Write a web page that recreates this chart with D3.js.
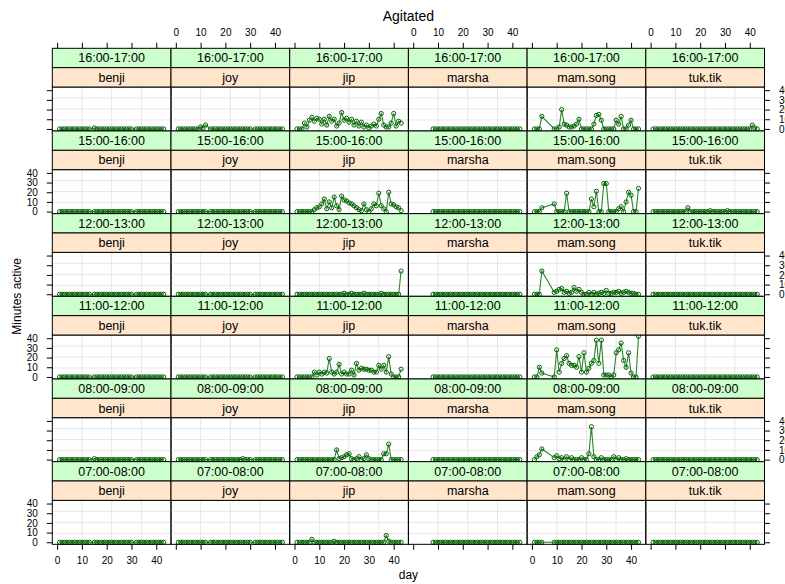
<!DOCTYPE html>
<html>
<head>
<meta charset="utf-8">
<script src="https://cdn.jsdelivr.net/npm/d3@7"></script>
<style>
    html, body { margin: 0; padding: 0; background: #fff; overflow: hidden; }
    svg { display: block; font-family: "Liberation Sans", Arial, sans-serif; }
    .strip text { font-size: 12.5px; fill: #000; }
    .tick text { font-size: 10px; fill: #000; }
    .tick line { stroke: #000; }
    .grid line { stroke: #e6e6e6; stroke-width: 1; }
    .series path { fill: none; stroke: #2a852a; stroke-width: 1.1; }
    .series circle { fill: none; stroke: #006400; stroke-width: 1; }
</style>
</head>
<body>
<svg id="chart" width="785" height="584"></svg>
<script>
/**
 * Data: minutes active per day, one array per person and time slot (days 1..43).
 * null = no observation that day.
 */
const days = [1,2,3,4,5,6,7,8,9,10, 11,12,13,14,15,16,17,18,19,20, 21,22,23,24,25,26,27,28,29,30, 31,32,33,34,35,36,37,38,39,40, 41,42,43];
const persons = ['benji', 'joy', 'jip', 'marsha', 'mam.song', 'tuk.tik'];
const slots = ['16:00-17:00', '15:00-16:00', '12:00-13:00', '11:00-12:00', '08:00-09:00', '07:00-08:00'];
const xTicks = [0, 10, 20, 30, 40];
const yTicks = [0, 10, 20, 30, 40];

const benji16 = [0,0,0,0,0,0,0,0,0,0, 0,0,0,null,1,0,0,0,0,0, 0,0,0,0,0,0,0,0,0,0, null,0,0,0,0,0,0,0,0,0, 0,0,0];
const benji15 = [0,0,0,0,0,0,0,0,0,0, 0,0,0,null,0,0,0,0,0,0, 0,0,0,0,0,0,0,0,0,0, null,0,0,0,0,0,0,0,0,0, 0,0,0];
const benji12 = [0,0,0,0,0,0,0,0,0,0, 0,0,0,null,0,0,0,0,0,0, 0,0,0,0,0,0,0,0,0,0, null,0,0,0,0,0,0,0,0,0, 0,0,0];
const benji11 = [0,0,0,0,0,0,0,0,0,0, 0,0,0,null,0,0,0,0,0,0, 0,0,0,0,0,0,0,0,0,0, null,0,0,0,0,0,0,0,0,0, 0,0,0];
const benji08 = [0,0,0,0,0,0,0,0,0,0, 0,0,0,null,1,0,0,0,0,0, 0,0,0,0,0,0,0,0,0,0, null,0,0,0,0,0,0,0,0,0, 0,0,0];
const benji07 = [0,0,0,0,0,0,0,0,0,0, 0,0,0,null,0,0,0,0,0,0, 0,0,0,0,0,0,0,0,0,0, null,0,0,0,0,0,0,0,0,0, 0,0,0];

const joy16 = [0,0,0,0,0,0,0,0,0,2, 1,4,null,0,0,0,0,0,0,0, 0,0,0,0,0,0,0,0,0,0, null,0,0,0,0,0,0,0,0,0, 0,0,0];
const joy15 = [0,0,0,0,0,0,0,0,0,0, 0,0,null,0,0,0,0,0,0,0, 0,0,0,0,0,0,0,0,0,0, null,0,0,0,0,0,0,0,0,0, 0,0,0];
const joy12 = [0,0,0,0,0,0,0,0,0,0, 0,0,null,0,0,0,0,0,0,0, 0,0,0,0,0,0,0,0,0,0, null,0,0,0,0,0,0,0,0,0, 0,0,0];
const joy11 = [0,0,0,0,0,0,0,0,0,0, 0,0,null,0,0,0,0,0,0,0, 0,0,0,0,0,0,0,0,0,0, null,0,0,0,0,0,0,0,0,0, 0,0,0];
const joy08 = [0,0,0,0,0,0,0,0,0,0, 0,0,null,0,0,0,0,0,0,0, 0,0,0,0,0,0,1,0,0,0, null,0,0,0,0,0,0,0,0,0, 0,0,0];
const joy07 = [0,0,0,0,0,0,0,0,0,0, 0,0,null,0,0,0,0,0,0,0, 0,0,0,0,0,0,0,0,0,0, null,0,0,0,0,0,0,0,0,0, 0,0,0];

const jip16 = [0,0,0,6,2,9,12,8,11,10, 5,10,4,13,8,10,3,6,17,9, 11,7,10,4,8,3,7,2,4,1, 3,5,3,10,16,4,2,2,6,16, 3,8,6];
const jip15 = [0,0,0,0,0,0,0,2,4,5, 8,13,3,10,4,15,6,2,16,12, 11,9,8,6,4,2,1,8,2,0, 3,8,6,19,6,3,0,20,8,7, 5,4,1];
const jip12 = [0,0,0,0,0,0,0,0,0,0, 0,0,0,0,0,0,0,0,0,1, 0,0,1,0,0,0,0,1,0,0, 0,0,0,0,1,0,0,0,0,0, 0,0,24];
const jip11 = [0,0,0,0,0,0,0,5,2,5, 3,5,4,19,5,3,5,13,3,5, 3,3,7,2,14,7,9,8,8,7, 7,5,5,12,8,12,5,21,3,0, 0,0,8];
const jip08 = [0,0,0,0,0,0,0,0,0,0, 0,0,0,0,0,0,10,1,2,3, 5,6,1,0,1,3,0,1,5,1, 0,0,0,0,0,6,6,16,0,0, 0,0,0];
const jip07 = [0,0,0,0,0,0,3,0,0,0, 0,0,0,0,0,1,0,0,0,0, 0,0,0,0,0,0,0,0,0,0, 0,0,0,0,0,0,7,1,0,0, 0,0,0];

const marsha16 = [null,null,null,null,null,null,null,0,0,0, 0,0,0,0,0,0,0,0,0,0, 0,0,0,0,0,0,0,0,0,0, 0,0,0,0,0,0,0,0,0,0, 0,0,0];
const marsha15 = [null,null,null,null,null,null,null,0,0,0, 0,0,0,0,0,0,0,0,0,0, 0,0,0,0,0,0,0,0,0,0, 0,0,0,0,0,0,0,0,0,0, 0,0,0];
const marsha12 = [null,null,null,null,null,null,null,0,0,0, 0,0,0,0,0,0,0,0,0,0, 0,0,0,0,0,0,0,0,0,0, 0,0,0,0,0,0,0,0,0,0, 0,0,0];
const marsha11 = [null,null,null,null,null,null,null,0,0,0, 0,0,0,0,0,0,0,0,0,0, 0,0,0,0,0,0,0,0,0,0, 0,0,0,0,0,0,0,0,0,0, 0,0,0];
const marsha08 = [null,null,null,null,null,null,null,0,0,0, 0,0,0,0,0,0,0,0,0,0, 0,0,0,0,0,0,0,0,0,0, 0,0,0,0,0,0,0,0,0,0, 0,0,0];
const marsha07 = [null,null,null,null,null,null,null,0,0,0, 0,0,0,0,0,0,0,0,0,0, 0,0,0,0,0,0,0,0,0,0, 0,0,0,0,0,0,0,0,0,0, 0,0,0];

const mam16 = [0,0,0,13,null,null,null,null,0,0, 2,20,5,4,2,2,3,5,10,0, 0,0,0,0,5,14,15,9,0,0, 0,0,0,9,5,13,0,0,4,9, 0,0,0];
const mam15 = [0,0,0,4,null,null,null,null,8,0, 0,0,0,19,0,0,0,0,0,0, 0,0,0,13,5,21,0,0,29,29, 0,0,0,0,3,5,0,10,20,17, 0,0,24];
const mam12 = [0,0,0,24,null,null,null,null,2,3, 5,6,2,3,1,2,7,3,5,2, 0,0,2,0,2,0,1,2,1,4, 1,1,2,2,3,1,2,3,2,1, 1,0,0];
const mam11 = [0,0,10,4,null,null,null,null,0,28, 5,14,19,22,14,12,12,10,21,5, 25,5,9,14,17,38,14,38,2,2, 2,0,2,25,28,35,17,10,25,4, 0,0,42];
const mam08 = [0,3,5,11,null,null,null,null,2,4, 1,2,0,3,0,2,0,0,0,2, 0,0,6,34,3,0,0,2,0,0, 0,0,3,0,2,0,0,1,0,0, 0,0,0];
const mam07 = [0,0,0,0,null,null,null,null,0,0, 0,0,0,0,0,0,0,0,0,0, 0,0,0,0,0,0,0,0,0,0, 0,0,0,0,0,0,0,0,0,0, 0,0,0];

const tuk16 = [0,0,0,0,0,0,0,0,0,0, 0,0,0,0,0,0,0,0,0,0, 0,0,0,0,0,0,0,0,0,0, 0,0,0,0,0,0,0,0,0,0, 4,1,0];
const tuk15 = [0,0,0,0,0,0,0,0,0,0, 0,0,0,0,4,0,0,0,0,0, 0,0,0,1,0,0,0,0,0,0, 1,0,0,0,0,0,0,0,0,0, 0,0,0];
const tuk12 = [0,0,0,0,0,0,0,0,0,0, 0,0,0,0,0,0,0,0,0,0, 0,0,0,0,0,0,0,0,0,0, 0,0,0,0,0,0,0,0,0,0, 0,0,0];
const tuk11 = [0,0,0,0,0,0,0,0,0,0, 0,0,0,0,0,0,0,0,0,0, 0,0,0,0,0,0,0,0,0,0, 0,0,0,0,0,0,0,0,0,0, 0,0,0];
const tuk08 = [0,0,0,0,0,0,0,0,0,0, 0,0,0,0,0,0,0,0,0,0, 0,0,0,0,0,0,0,0,0,0, 0,0,0,0,0,0,0,0,0,0, 0,0,0];
const tuk07 = [0,0,0,0,0,0,0,0,0,0, 0,0,0,0,0,0,0,0,0,0, 0,0,0,0,0,0,0,0,0,0, 0,0,0,0,0,0,0,0,0,0, 0,0,0];

// rows follow `slots`, columns follow `persons`
const table = [
    [benji16, joy16, jip16, marsha16, mam16, tuk16],
    [benji15, joy15, jip15, marsha15, mam15, tuk15],
    [benji12, joy12, jip12, marsha12, mam12, tuk12],
    [benji11, joy11, jip11, marsha11, mam11, tuk11],
    [benji08, joy08, jip08, marsha08, mam08, tuk08],
    [benji07, joy07, jip07, marsha07, mam07, tuk07]
];

/**
 * Layout.
 */
const gridLeft = 52.3, gridTop = 48.3,
    colW = 118.7, rowH = 82.67,
    stripH = 19.35, panelH = rowH - 2 * stripH,
    nCols = persons.length, nRows = slots.length,
    gridBottom = gridTop + nRows * rowH, gridRight = gridLeft + nCols * colW,
    tickLen = 5.5;

const svg = d3.select('#chart');

// x: day, padded like lattice (7% each side)
const xExt = d3.extent(days), xPad = (xExt[1] - xExt[0]) * 0.07;
const x = d3.scaleLinear().domain([xExt[0] - xPad, xExt[1] + xPad]).range([0, colW]);
const y = d3.scaleLinear().domain([-2.1, 43.3]).range([panelH, 0]);

const line = d3.line().x(d => x(d.day)).y(d => y(d.value));

function drawPanel(g, values) {
    const pts = days.map((d, i) => ({ day: d, value: values[i] })).filter(p => p.value !== null);

    const grid = g.append('g').attr('class', 'grid');
    [0.25, 0.5, 0.75].forEach(f => {
        grid.append('line').attr('x1', colW * f).attr('x2', colW * f).attr('y1', 0).attr('y2', panelH);
        grid.append('line').attr('x1', 0).attr('x2', colW).attr('y1', panelH * f).attr('y2', panelH * f);
    });

    const s = g.append('g').attr('class', 'series');
    s.append('path').attr('d', line(pts));
    s.selectAll('circle').data(pts).enter().append('circle')
        .attr('cx', d => x(d.day))
        .attr('cy', d => y(d.value))
        .attr('r', 2.1);

    g.append('rect').attr('width', colW).attr('height', panelH)
        .attr('fill', 'none').attr('stroke', '#000');
}

function drawStrip(g, yOff, fill, label) {
    const s = g.append('g').attr('class', 'strip').attr('transform', 'translate(0,' + yOff + ')');
    s.append('rect').attr('width', colW).attr('height', stripH)
        .attr('fill', fill).attr('stroke', '#000');
    s.append('text').attr('x', colW / 2).attr('y', stripH / 2 + 4.5)
        .attr('text-anchor', 'middle').text(label);
}

slots.forEach((slot, r) => {
    persons.forEach((person, c) => {
        const cell = svg.append('g')
            .attr('transform', 'translate(' + (gridLeft + c * colW) + ',' + (gridTop + r * rowH) + ')');
        const panel = cell.append('g').attr('transform', 'translate(0,' + 2 * stripH + ')');
        drawPanel(panel, table[r][c]);
        drawStrip(cell, 0, '#ccffcc', slot);
        drawStrip(cell, stripH, '#ffe5cc', person);
    });
});

/**
 * Axes: alternating labels, ticks on every side.
 */
persons.forEach((p, c) => {
    const bx = svg.append('g').attr('transform', 'translate(' + (gridLeft + c * colW) + ',' + gridBottom + ')')
        .call(d3.axisBottom(x).tickValues(xTicks).tickSize(tickLen).tickPadding(7)
            .tickFormat(c % 2 === 0 ? d3.format('d') : ''));
    const tx = svg.append('g').attr('transform', 'translate(' + (gridLeft + c * colW) + ',' + gridTop + ')')
        .call(d3.axisTop(x).tickValues(xTicks).tickSize(tickLen).tickPadding(7)
            .tickFormat(c % 2 === 1 ? d3.format('d') : ''));
    bx.select('.domain').remove();
    tx.select('.domain').remove();
});

slots.forEach((s, r) => {
    const py = gridTop + r * rowH + 2 * stripH;
    const fromBottom = nRows - 1 - r;
    const ly = svg.append('g').attr('transform', 'translate(' + gridLeft + ',' + py + ')')
        .call(d3.axisLeft(y).tickValues(yTicks).tickSize(tickLen).tickPadding(9)
            .tickFormat(fromBottom % 2 === 0 ? d3.format('d') : ''));
    // the right-hand labels run past the page edge, as in the original
    const ry = svg.append('g').attr('transform', 'translate(' + gridRight + ',' + py + ')')
        .call(d3.axisRight(y).tickValues(yTicks).tickSize(tickLen).tickPadding(9)
            .tickFormat(fromBottom % 2 === 1 ? d3.format('d') : ''));
    ly.select('.domain').remove();
    ry.select('.domain').remove();
});
svg.selectAll('.tick text').attr('font-family', null).attr('font-size', null).attr('fill', null);
svg.selectAll('.tick line').attr('stroke', null);

/**
 * Titles.
 */
svg.append('text').attr('x', (gridLeft + gridRight) / 2).attr('y', 21)
    .attr('text-anchor', 'middle').attr('font-size', 14).text('Agitated');
svg.append('text').attr('x', (gridLeft + gridRight) / 2).attr('y', 579)
    .attr('text-anchor', 'middle').attr('font-size', 12).text('day');
svg.append('text').attr('transform', 'translate(21,' + (gridTop + gridBottom) / 2 + ') rotate(-90)')
    .attr('text-anchor', 'middle').attr('font-size', 12).text('Minutes active');
</script>
</body>
</html>
